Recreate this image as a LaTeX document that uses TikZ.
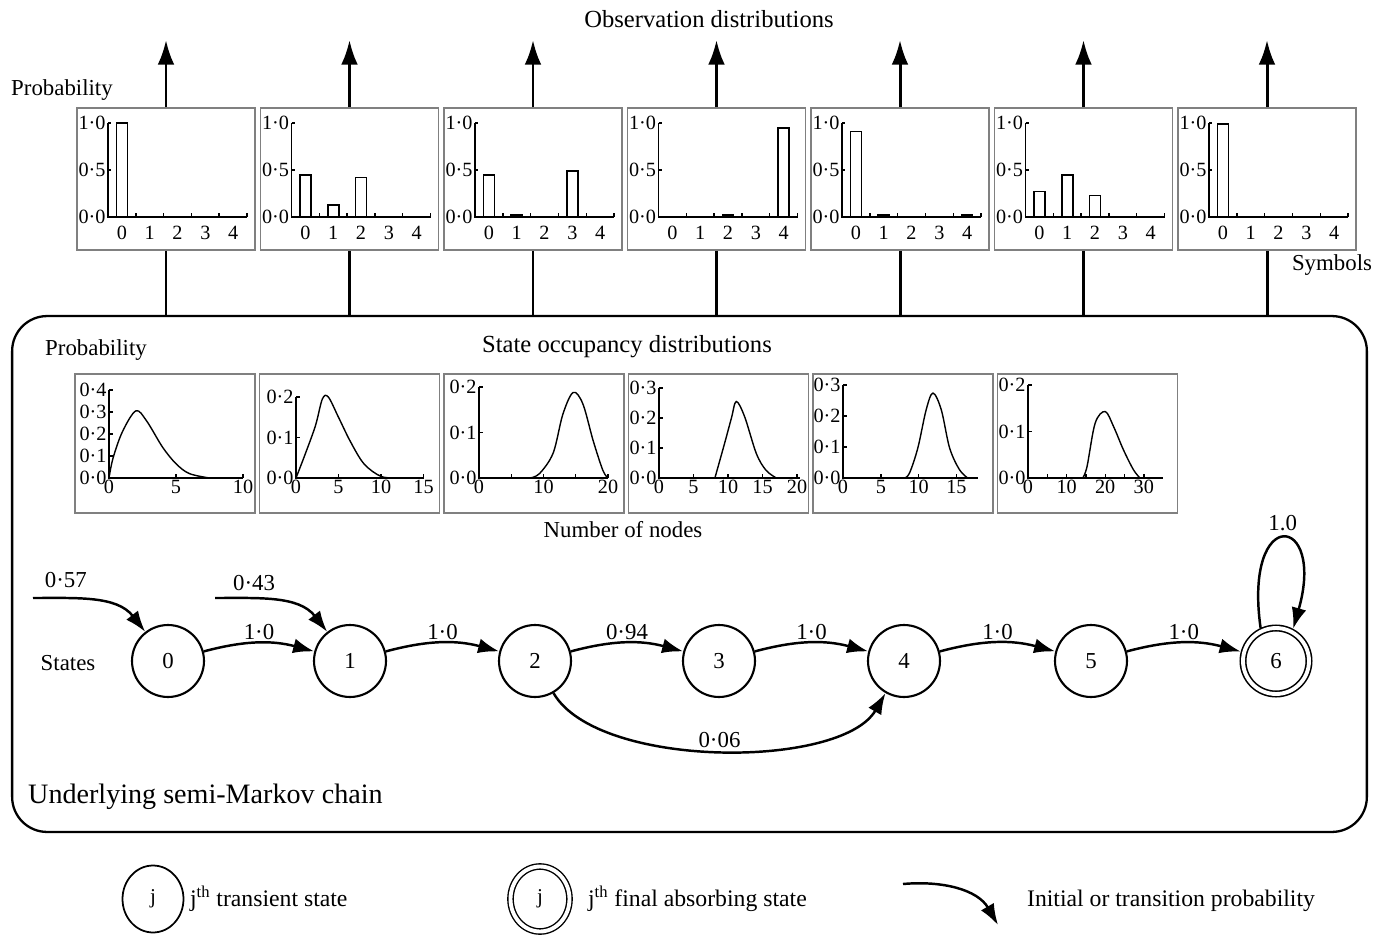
\documentclass[tikz,border=0pt]{standalone}
\usepackage{fontspec}
\setmainfont{Liberation Serif}
\usetikzlibrary{arrows.meta,shapes.geometric}

\tikzset{
  obsbox/.style={draw=gray,line width=0.9pt,minimum width=3.56cm,minimum height=2.84cm,inner sep=0pt},
  occbox/.style={draw=gray,line width=0.9pt,minimum width=3.6cm,minimum height=2.78cm,inner sep=0pt},
  axisline/.style={line width=0.8pt},
  bar/.style={draw,line width=1pt,fill=white},
  curve/.style={line width=0.8pt,smooth,tension=0.55},
  ticklab/.style={font=\fontsize{11.5}{12}\selectfont,inner sep=1.2pt},
  lab/.style={font=\fontsize{13}{15}\selectfont,inner sep=1pt},
  big/.style={font=\fontsize{14}{16}\selectfont,inner sep=1pt},
  leg/.style={font=\fontsize{13.5}{15}\selectfont,inner sep=1pt},
  state/.style={circle,draw,line width=1.2pt,minimum size=1.44cm,inner sep=0pt,font=\fontsize{13}{15}\selectfont},
  final/.style={state,double,double distance=2.2pt,line width=0.9pt,minimum size=1.32cm,outer sep=2pt},
  trans/.style={line width=1.4pt,-{Latex[length=12pt,width=8.5pt]}},
  obsarrow/.style={line width=1.7pt,-{Latex[length=14pt,width=9.5pt]}}
}

\begin{document}
\begin{tikzpicture}[x=0.02cm,y=-0.02cm]
\useasboundingbox (0,0) rectangle (1387,936);

% titles
\node[big] (obstitle) at (709,19) {Observation distributions};
\node[lab] (probtop) at (62,90) {Probability};
\node[lab] (symb) at (1332,265) {Symbols};
\coordinate (obstop) at (0,40);

% the semi-Markov chain frame
\node[draw,rounded corners=0.7cm,line width=1.3pt,minimum width=27.1cm,minimum height=10.32cm,inner sep=0pt] (chain) at (689.5,574) {};

% observation distributions
\foreach \i/\pa/\pb/\pc/\pd/\pe in {0/1/0/0/0/0,1/.45/.13/.42/0/0,2/.45/.025/0/.49/0,3/0/0/.02/0/.95,4/.91/.025/0/0/.025,5/.27/.45/.23/0/0,6/.99/0/0/0/0}{
  \node[obsbox] (ob\i) at (166+183.5*\i,179) {};
  \draw[obsarrow] (ob\i.north) -- (ob\i.north |- obstop);
  \draw[line width=1.7pt] (ob\i.south) -- (ob\i.south |- chain.north);
  \begin{scope}[shift={(108+183.5*\i,217)}]
    \foreach \k/\h in {0/\pa,1/\pb,2/\pc,3/\pd,4/\pe}
      \draw[bar] (8.4+27.8*\k,0) rectangle ++(11,-94*\h);
    \draw[axisline] (0,-94) -- (0,0) -- (139,0);
    \foreach \k in {1,...,5} \draw[axisline] (27.8*\k,0) -- ++(0,-4);
    \foreach \v/\t in {0/0·0,47/0·5,94/1·0}{
      \draw[axisline] (0,-\v) -- ++(3,0);
      \node[ticklab,left] (yl\i\v) at (0,-\v) {\t};
    }
    \foreach \k in {0,...,4} \node[ticklab] (xl\i\k) at (13.9+27.8*\k,16) {\k};
  \end{scope}
}

% state occupancy distributions
\node[lab] (probocc) at (96,350) {Probability};
\node[big] (occtitle) at (627,347) {State occupancy distributions};
\node[lab] (nnodes) at (623,530) {Number of nodes};
\foreach \i in {0,...,5} \node[occbox] (oc\i) at (165+184.5*\i,443.5) {};

\begin{scope}[shift={(109,478)}]
  \draw[axisline] (0,-88) -- (0,0) -- (134,0);
  \foreach \v in {0,...,4}{\draw[axisline] (0,-22*\v) -- ++(4,0); \node[ticklab,left] (oya\v) at (0,-22*\v) {0·\v};}
  \foreach \v in {0,5,10}{\draw[axisline] (13.4*\v,0) -- ++(0,-4); \node[ticklab,below] (oxa\v) at (13.4*\v,0) {\v};}
  \draw[curve,xscale=13.4,yscale=-220] plot coordinates {(0,0) (0.3,0.09) (1,0.21) (2,0.305) (2.8,0.26) (4,0.14) (5,0.065) (6,0.02) (7.5,0)};
\end{scope}

\begin{scope}[shift={(296,478)}]
  \draw[axisline] (0,-81) -- (0,0) -- (128,0);
  \foreach \v in {0,1,2}{\draw[axisline] (0,-40.5*\v) -- ++(4,0); \node[ticklab,left] (oyb\v) at (0,-40.5*\v) {0·\v};}
  \foreach \v in {0,5,10,15}{\draw[axisline] (8.5*\v,0) -- ++(0,-4); \node[ticklab,below] (oxb\v) at (8.5*\v,0) {\v};}
  \draw[curve,xscale=8.5,yscale=-405] plot coordinates {(0,0) (1.1,0.06) (2.3,0.13) (3.1,0.195) (3.8,0.2) (5,0.15) (6.4,0.09) (8,0.035) (10,0.004) (12,0)};
\end{scope}

\begin{scope}[shift={(479,478)}]
  \draw[axisline] (0,-91) -- (0,0) -- (129,0);
  \foreach \v in {0,1,2}{\draw[axisline] (0,-45.5*\v) -- ++(4,0); \node[ticklab,left] (oyc\v) at (0,-45.5*\v) {0·\v};}
  \foreach \v in {5,15} \draw[axisline] (6.45*\v,0) -- ++(0,-4);
  \foreach \v in {0,10,20}{\draw[axisline] (6.45*\v,0) -- ++(0,-4); \node[ticklab,below] (oxc\v) at (6.45*\v,0) {\v};}
  \draw[curve,xscale=6.45,yscale=-455] plot coordinates {(7.9,0) (9.4,0.01) (11.5,0.055) (13,0.14) (14.6,0.188) (16.1,0.163) (17.7,0.082) (19.2,0.017) (20,0)};
\end{scope}

\begin{scope}[shift={(659,478)}]
  \draw[axisline] (0,-90) -- (0,0) -- (141,0);
  \foreach \v in {0,...,3}{\draw[axisline] (0,-30*\v) -- ++(4,0); \node[ticklab,left] (oyd\v) at (0,-30*\v) {0·\v};}
  \foreach \v in {0,5,10,15,20}{\draw[axisline] (6.9*\v,0) -- ++(0,-4); \node[ticklab,below] (oxd\v) at (6.9*\v,0) {\v};}
  \draw[curve,xscale=6.9,yscale=-300] plot coordinates {(8.1,0) (9.5,0.115) (10.5,0.2) (11.2,0.255) (12.4,0.205) (14.1,0.082) (15.5,0.026) (17,0)};
\end{scope}

\begin{scope}[shift={(843,478)}]
  \draw[axisline] (0,-93) -- (0,0) -- (135,0);
  \foreach \v in {0,...,3}{\draw[axisline] (0,-31*\v) -- ++(4,0); \node[ticklab,left] (oye\v) at (0,-31*\v) {0·\v};}
  \foreach \v in {0,5,10,15}{\draw[axisline] (7.56*\v,0) -- ++(0,-4); \node[ticklab,below] (oxe\v) at (7.56*\v,0) {\v};}
  \draw[curve,xscale=7.56,yscale=-310] plot coordinates {(8.15,0) (8.8,0.016) (9.9,0.097) (11,0.22) (11.9,0.274) (13,0.22) (14.1,0.097) (15.4,0.027) (16.5,0)};
\end{scope}

\begin{scope}[shift={(1028,478)}]
  \draw[axisline] (0,-93) -- (0,0) -- (135,0);
  \foreach \v in {0,1,2}{\draw[axisline] (0,-46.5*\v) -- ++(4,0); \node[ticklab,left] (oyf\v) at (0,-46.5*\v) {0·\v};}
  \foreach \v in {5,15,25} \draw[axisline] (3.86*\v,0) -- ++(0,-4);
  \foreach \v in {0,10,20,30}{\draw[axisline] (3.86*\v,0) -- ++(0,-4); \node[ticklab,below] (oxf\v) at (3.86*\v,0) {\v};}
  \draw[curve,xscale=3.86,yscale=-465] plot coordinates {(14.2,0) (15.3,0.025) (17.4,0.118) (20,0.143) (22.2,0.11) (24.7,0.061) (27.3,0.018) (29,0)};
\end{scope}

% states
\node[lab] (states) at (68,663) {States};
\foreach \n/\x in {0/168,1/350,2/535,3/719,4/904,5/1091}
  \node[state] (s\n) at (\x,661) {\n};
\node[final] (s6) at (1276,661) {6};

\coordinate (in0) at (33,598);
\coordinate (in1) at (215,598);
\draw[trans] (in0) to[out=0,in=128] node[lab,above=4pt,pos=0.25] {0·57} (s0);
\draw[trans] (in1) to[out=0,in=128] node[lab,above=3pt,pos=0.3] {0·43} (s1);

\foreach \a/\b/\p in {0/1/1·0,1/2/1·0,2/3/0·94,3/4/1·0,4/5/1·0,5/6/1·0}
  \draw[trans] (s\a) to[bend left=15] node[lab,above] {\p} (s\b);
\draw[trans] (s2) to[out=-60,in=-120,looseness=0.68] node[lab,above] {0·06} (s4);
\draw[trans] (s6.115) .. controls +(-98:125) and +(-74:120) .. node[lab,above=3pt] {1.0} (s6.62);

\node[right,font=\fontsize{16}{18}\selectfont] (chaintitle) at (22,797) {Underlying semi-Markov chain};

% legend
\node[draw,ellipse,line width=1pt,minimum width=1.22cm,minimum height=1.34cm,inner sep=0pt,font=\fontsize{12}{14}\selectfont] (lj) at (153,899) {j};
\node[leg,right] (ljt) at (188,899) {j\textsuperscript{th} transient state};
\node[draw,ellipse,double,double distance=2.2pt,line width=0.8pt,minimum width=1.18cm,minimum height=1.3cm,inner sep=0pt,font=\fontsize{12}{14}\selectfont] (lf) at (540,899) {j};
\node[leg,right] (lft) at (586,899) {j\textsuperscript{th} final absorbing state};
\coordinate (la) at (903,884);
\coordinate (lb) at (998,925);
\draw[trans] (la) to[out=5,in=120] (lb);
\node[leg,right] (lat) at (1025,901) {Initial or transition probability};
\end{tikzpicture}
\end{document}
